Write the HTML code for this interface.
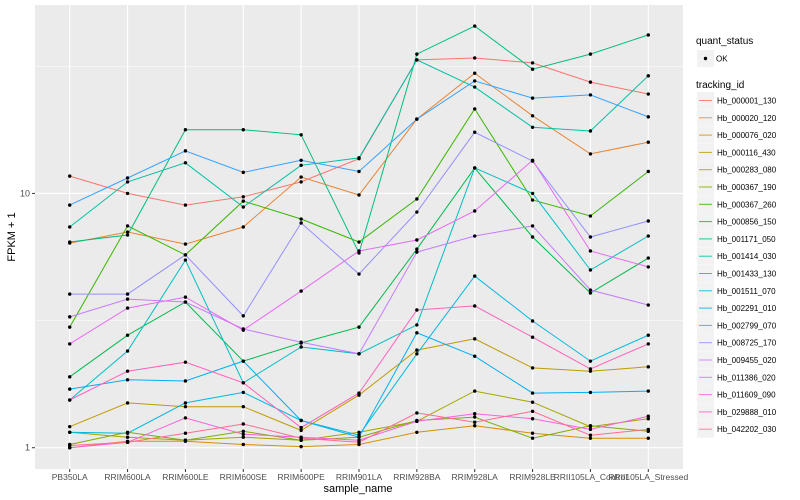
<!DOCTYPE html>
<html><head><meta charset="utf-8"><style>
body{margin:0;background:#fff;}
svg{display:block;font-family:"Liberation Sans",sans-serif;}
</style></head><body>
<svg id="chart" width="800" height="500" xmlns="http://www.w3.org/2000/svg">
<rect x="35" y="5" width="648" height="464" fill="#ebebeb"/>
<g id="grid"></g><g id="series"></g><g id="points"></g><g id="axes"></g><g id="legend"></g>
<text x="358" y="492" font-size="11" text-anchor="middle" fill="#000">sample_name</text>
<text x="15" y="237" font-size="11" text-anchor="middle" fill="#000" transform="rotate(-90 15 237)">FPKM + 1</text>
</svg>
<script>
const categories = ["PB350LA","RRIM600LA","RRIM600LE","RRIM600SE","RRIM600PE","RRIM901LA","RRIM928BA","RRIM928LA","RRIM928LE","RRII105LA_Control","RRII105LA_Stressed"];
const trackingIds = ["Hb_000001_130","Hb_000020_120","Hb_000076_020","Hb_000116_430","Hb_000283_080","Hb_000367_190","Hb_000367_260","Hb_000856_150","Hb_001171_050","Hb_001414_030","Hb_001433_130","Hb_001511_070","Hb_002291_010","Hb_002799_070","Hb_008725_170","Hb_009455_020","Hb_011386_020","Hb_011609_090","Hb_029888_010","Hb_042202_030"];
const colors = ["#F8766D","#EA8331","#D89000","#C09B00","#A3A500","#7CAE00","#39B600","#00BB4E","#00BF7D","#00C1A3","#00BFC4","#00BAE0","#00B0F6","#35A2FF","#9590FF","#C77CFF","#E76BF3","#FA62DB","#FF62BC","#FF6C91"];
const s01 = [11.7,10.0,9.0,9.7,11.1,13.7,33.5,34.1,32.6,27.4,24.6];
const s02 = [6.38,7.05,6.32,7.38,11.6,9.86,19.6,29.7,20.2,14.3,15.9];
const s03 = [1.00,1.06,1.06,1.03,1.01,1.03,1.15,1.22,1.14,1.09,1.09];
const s04 = [1.21,1.50,1.45,1.45,1.17,1.61,2.42,2.68,2.06,2.00,2.08];
const s05 = [1.15,1.10,1.07,1.10,1.07,1.15,1.27,1.67,1.51,1.21,1.30];
const s06 = [1.03,1.15,1.07,1.16,1.07,1.10,1.28,1.32,1.09,1.22,1.16];
const s07 = [2.98,7.45,5.73,9.33,7.93,6.44,9.51,21.5,9.42,8.15,12.2];
const s08 = [1.90,2.77,3.74,2.19,2.58,2.98,6.04,12.6,6.74,4.06,5.57];
const s09 = [6.44,6.86,17.8,17.8,17.0,5.83,35.3,45.5,30.8,35.3,42.0];
const s10 = [7.38,11.1,13.2,8.84,12.9,13.8,33.5,26.2,18.2,17.6,29.0];
const s11 = [1.54,2.40,5.47,1.80,2.49,2.34,3.04,12.6,10.0,5.00,6.80];
const s12 = [1.15,1.14,1.50,1.65,1.28,1.12,2.34,4.73,3.15,2.19,2.77];
const s13 = [1.70,1.85,1.83,2.19,1.28,1.10,2.83,2.29,1.64,1.65,1.67];
const s14 = [9.0,11.5,14.7,12.1,13.5,12.2,19.6,27.7,23.7,24.4,20.0];
const s15 = [4.02,4.02,5.73,3.30,7.65,4.82,8.45,17.4,13.4,6.74,7.79];
const s16 = [3.27,3.84,3.74,2.93,2.60,2.34,5.88,6.80,7.45,4.17,3.64];
const s17 = [2.56,3.54,3.91,2.90,4.13,5.94,6.56,8.53,13.5,5.94,5.14];
const s18 = [1.00,1.05,1.31,1.13,1.10,1.07,1.27,1.36,1.30,1.18,1.33];
const s19 = [1.54,2.00,2.17,1.80,1.20,1.64,3.48,3.61,2.72,2.04,2.56];
const s20 = [1.02,1.05,1.14,1.24,1.09,1.05,1.37,1.26,1.39,1.12,1.18];
const yTickValues = [1,10];
const yTickLabels = ["1","10"];

const NS="http://www.w3.org/2000/svg";
const allSeries=[s01,s02,s03,s04,s05,s06,s07,s08,s09,s10,s11,s12,s13,s14,s15,s16,s17,s18,s19,s20];
const panel={l:35,r:683,t:5,b:469};
const logMin=-0.0837, logMax=1.741;
function xScale(i){const step=(panel.r-panel.l)/(categories.length-1+1.2);return panel.l+step*(0.6+i);}
function yScale(v){const lv=Math.log10(v);return panel.b-(lv-logMin)/(logMax-logMin)*(panel.b-panel.t);}
function mk(tag,attrs,parent){const e=document.createElementNS(NS,tag);for(const k in attrs)e.setAttribute(k,attrs[k]);parent.appendChild(e);return e;}

const grid=document.getElementById('grid');
[Math.sqrt(10),Math.sqrt(1000)].forEach(v=>{
  const l=mk('line',{x1:panel.l,x2:panel.r,y1:yScale(v),y2:yScale(v),stroke:'#fff','stroke-width':0.5},grid);
  
  
});
yTickValues.forEach(v=>{
  const l=mk('line',{x1:panel.l,x2:panel.r,y1:yScale(v),y2:yScale(v),stroke:'#fff','stroke-width':1.1},grid);
  
  
});
categories.forEach((c,i)=>{
  const l=mk('line',{x1:xScale(i),x2:xScale(i),y1:panel.t,y2:panel.b,stroke:'#fff','stroke-width':1.1},grid);
  
  
});

const sg=document.getElementById('series'), pg=document.getElementById('points');
allSeries.forEach((s,k)=>{
  const d=s.map((v,i)=>(i?'L':'M')+xScale(i).toFixed(1)+','+yScale(v).toFixed(1)).join(' ');
  const p=mk('path',{d:d,fill:'none',stroke:colors[k],'stroke-width':1},sg);
  
  
});
allSeries.forEach((s,k)=>{
  s.forEach((v,i)=>{
    const c=mk('circle',{cx:xScale(i),cy:yScale(v),r:1.7,fill:'#000'},pg);
    
    
  });
});

const ax=document.getElementById('axes');
yTickValues.forEach((v,i)=>{
  const t=mk('line',{x1:panel.l-3,x2:panel.l,y1:yScale(v),y2:yScale(v),stroke:'#333','stroke-width':1},ax);
  
  
  const tx=mk('text',{x:panel.l-5,y:yScale(v)+3,'font-size':9,'text-anchor':'end',fill:'#4d4d4d'},ax);
  tx.textContent=yTickLabels[i];
  
  
});
categories.forEach((c,i)=>{
  const t=mk('line',{x1:xScale(i),x2:xScale(i),y1:panel.b,y2:panel.b+3,stroke:'#333','stroke-width':1},ax);
  
  
  const tx=mk('text',{x:xScale(i),y:panel.b+11,'font-size':8.5,'text-anchor':'middle',fill:'#4d4d4d'},ax);
  tx.textContent=c;
  
  
});

const lg=document.getElementById('legend');
let t1=mk('text',{x:696,y:44,'font-size':10,fill:'#000'},lg);t1.textContent='quant_status';


let kb=mk('rect',{x:697,y:50,width:17,height:17,fill:'#f2f2f2'},lg);


let kd=mk('circle',{cx:705.5,cy:58.5,r:1.7,fill:'#000'},lg);


let ok=mk('text',{x:716,y:61.5,'font-size':8,fill:'#000'},lg);ok.textContent='OK';


let t2=mk('text',{x:696,y:88,'font-size':10,fill:'#000'},lg);t2.textContent='tracking_id';


trackingIds.forEach((id,k)=>{
  const y=92+k*17.3;
  const r=mk('rect',{x:697,y:y,width:17,height:17,fill:'#f2f2f2'},lg);
  
  
  const l=mk('line',{x1:699,x2:712,y1:y+8.5,y2:y+8.5,stroke:colors[k],'stroke-width':1,opacity:0.85},lg);
  
  
  const tx=mk('text',{x:717,y:y+11.5,'font-size':8,fill:'#000'},lg);
  tx.textContent=id;
  
  
});
</script>
</body></html>
